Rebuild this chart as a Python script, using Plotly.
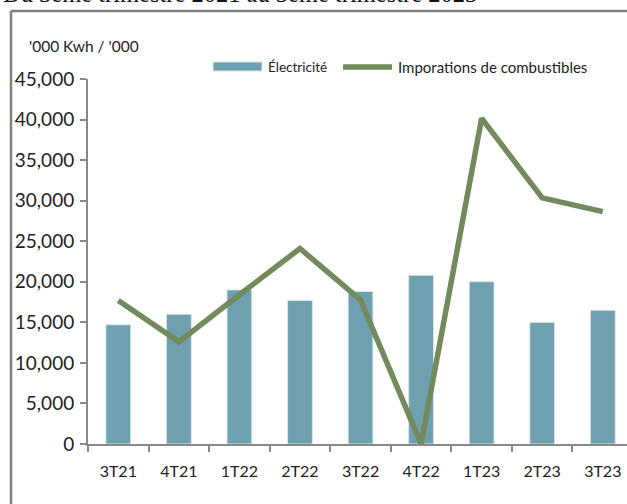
import plotly.graph_objects as go

categories = ["3T21", "4T21", "1T22", "2T22", "3T22", "4T22", "1T23", "2T23", "3T23"]
electricite = [14700, 16000, 19000, 17700, 18800, 20800, 20000, 15000, 16500]
combustibles = [17700, 12600, 18400, 24100, 17750, 0, 40150, 30350, 28650]
y_ticks = [0, 5000, 10000, 15000, 20000, 25000, 30000, 35000, 40000, 45000]
series_names = ["Électricité", "Imporations de combustibles"]

FONT = "Lato"
GRID = "#898989"
BAR_C = "#6FA0B0"
LINE_C = "#738A5C"

# plot area in pixels: x 88..627, y 79..444
L, R, T, B = 88, 627, 79, 444
def px(x):
    return (x - L) / (R - L)
def py(y):
    return (B - y) / (B - T)

fig = go.Figure()
fig.add_trace(go.Bar(
    x=categories, y=electricite, name=series_names[0],
    marker=dict(color=BAR_C, line=dict(color="#d8e6ea", width=1)),
    width=0.41,
))
fig.add_trace(go.Scatter(
    x=categories, y=combustibles, name=series_names[1],
    mode="lines", line=dict(color=LINE_C, width=5.5),
))

fig.update_layout(
    width=627, height=504,
    margin=dict(l=L, r=627 - R, t=T, b=504 - B, autoexpand=False),
    paper_bgcolor="white", plot_bgcolor="white",
    showlegend=False,
    xaxis=dict(
        range=[-0.5, 8.4], showline=True, linecolor=GRID, linewidth=2,
        ticks="outside", ticklen=6, tickcolor=GRID, tickwidth=2,
        tickson="boundaries", showgrid=False, ticklabelstandoff=12,
        tickfont=dict(family=FONT, size=16, color="#222"),
    ),
    yaxis=dict(
        range=[0, 45000], tickvals=y_ticks, tickformat=",d",
        showline=True, linecolor=GRID, linewidth=2,
        ticks="outside", ticklen=6, tickcolor=GRID, tickwidth=2,
        showgrid=False, zeroline=False, ticklabelstandoff=2,
        tickfont=dict(family=FONT, size=19, color="#222"),
    ),
    font=dict(family=FONT),
)

# frame of the chart area (cropped image)
fig.add_shape(type="line", xref="paper", yref="paper", layer="above",
              x0=px(11), x1=px(627), y0=py(11), y1=py(11),
              line=dict(color="#7f7f7f", width=2.5))
fig.add_shape(type="line", xref="paper", yref="paper", layer="above",
              x0=px(11), x1=px(11), y0=py(504), y1=py(11),
              line=dict(color="#7f7f7f", width=2.5))

# legend (drawn manually to match swatch shapes)
fig.add_shape(type="rect", xref="paper", yref="paper",
              x0=px(213), x1=px(262), y0=py(71), y1=py(62),
              fillcolor=BAR_C, line=dict(color="#d8e6ea", width=1))
fig.add_annotation(text=series_names[0], xref="paper", yref="paper",
                   x=px(266), y=py(67), xanchor="left", yanchor="middle",
                   showarrow=False, font=dict(family=FONT, size=13.5, color="#222"))
fig.add_shape(type="line", xref="paper", yref="paper",
              x0=px(343), x1=px(392), y0=py(67), y1=py(67),
              line=dict(color=LINE_C, width=5.5))
fig.add_annotation(text=series_names[1], xref="paper", yref="paper",
                   x=px(396), y=py(67), xanchor="left", yanchor="middle",
                   showarrow=False, font=dict(family=FONT, size=15, color="#222"))

fig.add_annotation(text="'000 Kwh / '000", xref="paper", yref="paper",
                   x=px(27), y=py(46), xanchor="left", yanchor="middle",
                   showarrow=False, font=dict(family=FONT, size=15.5, color="#222"))
fig.add_annotation(text="Du 3eme trimestre 2021 au 3eme trimestre 2023", xref="paper", yref="paper",
                   x=px(1), y=py(-7), xanchor="left", yanchor="middle",
                   showarrow=False, font=dict(family="Liberation Serif", size=24.5, color="#111"))

fig.write_html("out.html", config={"displayModeBar": False},
               post_script="document.body.style.margin='0px';")
